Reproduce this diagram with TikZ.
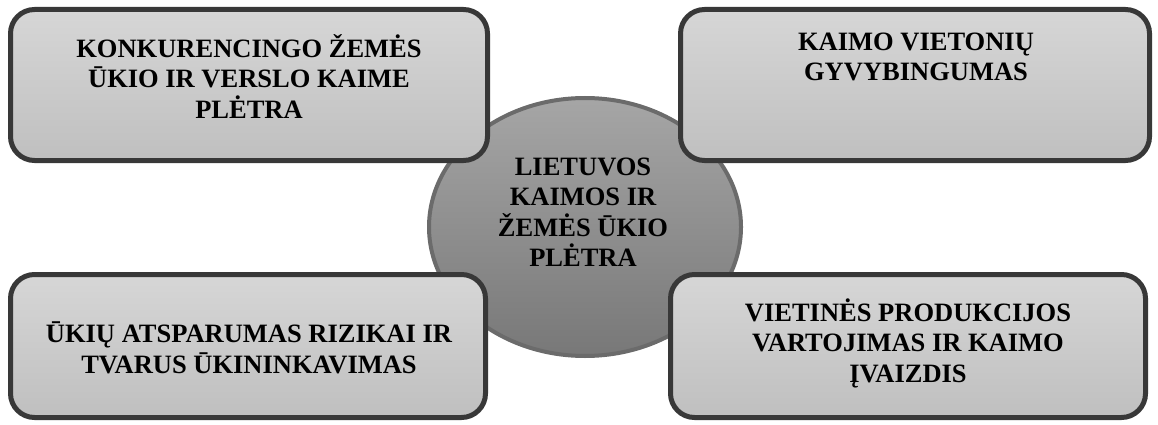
\documentclass[tikz,border=0pt]{standalone}
\usepackage{fontspec}
\setmainfont{Liberation Serif}
\usetikzlibrary{shapes.geometric}

\begin{document}
\begin{tikzpicture}[x=1pt, y=-1pt,
    langas/.style={draw=black!78, line width=5pt, rounded corners=24pt,
                   top color=black!16, bottom color=black!25, inner sep=0pt},
    centras/.style={ellipse, draw=black!58, line width=4pt,
                    top color=black!35, bottom color=black!53, inner sep=0pt,
                    minimum width=312pt, minimum height=258pt},
    tekstas/.style={align=center, inner sep=0pt,
                    font=\fontsize{26.5}{30.5}\selectfont\bfseries}]
    \useasboundingbox (0,0) rectangle (1158,425);
    \node[centras] (ratas) at (585,227) {};
    \node[tekstas] (ratastxt) at (583,212) {LIETUVOS\\KAIMOS IR\\ŽEMĖS ŪKIO\\PLĖTRA};
    \node[langas, minimum width=477pt, minimum height=151pt] (kv) at (249,85) {};
    \node[langas, minimum width=469pt, minimum height=151pt] (dv) at (915,85) {};
    \node[langas, minimum width=475pt, minimum height=143pt] (ka) at (248,346) {};
    \node[langas, minimum width=475pt, minimum height=143pt] (da) at (908,346) {};
    \node[tekstas] (kvtxt) at (249,76) {KONKURENCINGO ŽEMĖS\\ŪKIO IR VERSLO KAIME\\PLĖTRA};
    \node[tekstas] (dvtxt) at (916,57) {KAIMO VIETONIŲ\\GYVYBINGUMAS};
    \node[tekstas] (katxt) at (249,348) {ŪKIŲ ATSPARUMAS RIZIKAI IR\\TVARUS ŪKININKAVIMAS};
    \node[tekstas] (datxt) at (908,343) {VIETINĖS PRODUKCIJOS\\VARTOJIMAS IR KAIMO\\ĮVAIZDIS};
\end{tikzpicture}
\end{document}
